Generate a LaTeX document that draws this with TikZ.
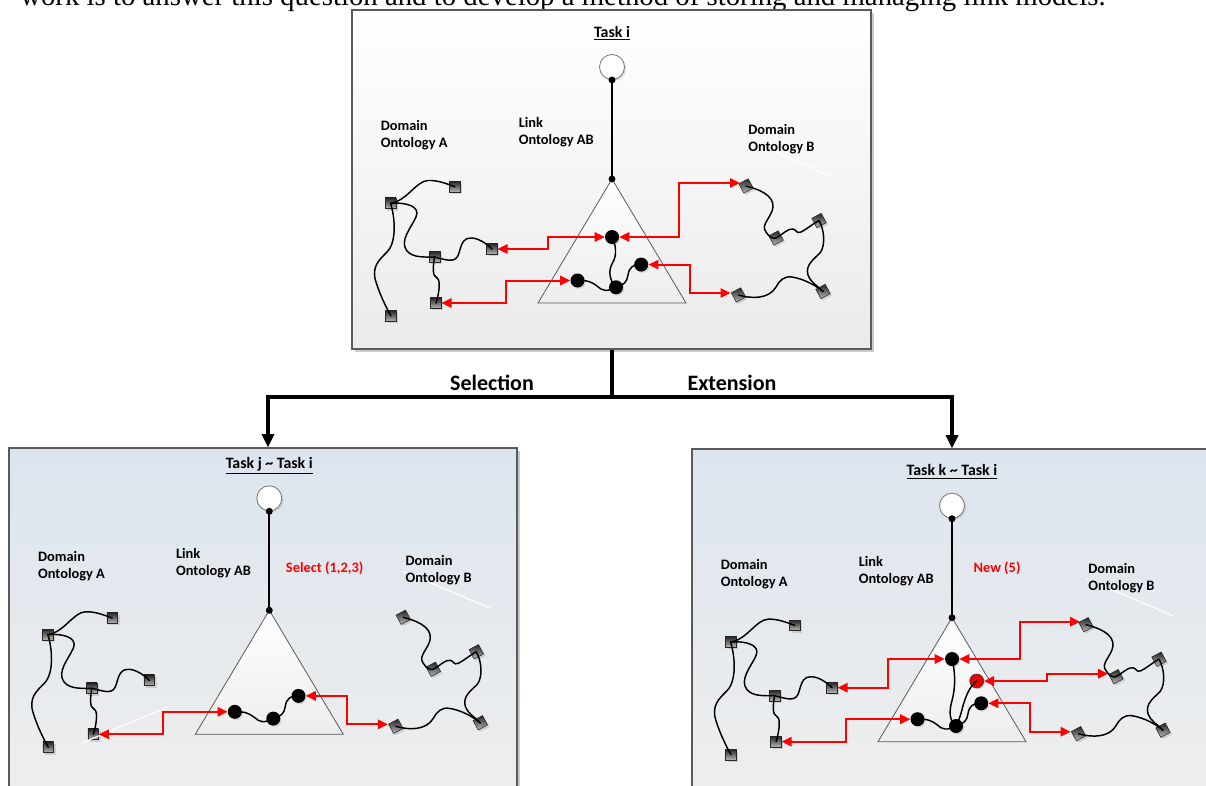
\documentclass[tikz,border=0pt]{standalone}
\usepackage{fontspec}
\setmainfont{Carlito}
\newfontfamily\bodyserif{Liberation Serif}
\usetikzlibrary{arrows.meta,shadows}

\definecolor{edgegray}{HTML}{5A5A5A}
\definecolor{paneltop}{HTML}{DCE5EE}
\definecolor{panelbot}{HTML}{EEEEEE}

\tikzset{
  panelbox/.style={rectangle, draw=edgegray, line width=0.8pt, inner sep=0pt,
    drop shadow={shadow xshift=2pt, shadow yshift=-2pt, opacity=0.35, fill=black!60}},
  trunk/.style={line width=3pt, black, line join=miter},
  trunktip/.style={-{Triangle[length=10pt,width=9pt]}},
  tri/.style={draw=black!65, line width=0.6pt, top color=white, bottom color=black!7},
  rootnode/.style={circle, draw=black!55, line width=0.6pt, fill=white, minimum size=18.75pt, inner sep=0pt,
    drop shadow={shadow xshift=1.2pt, shadow yshift=-1.2pt, opacity=0.25, fill=black!50}},
  joint/.style={circle, fill=black, minimum size=5.2pt, inner sep=0pt},
  spine/.style={line width=1.3pt, black},
  term/.style={rectangle, draw=black!85, line width=0.4pt, minimum size=8pt, inner sep=0pt,
    top color=black!85, bottom color=black!28,
    drop shadow={shadow xshift=1.4pt, shadow yshift=-1.4pt, opacity=0.3, fill=black!45}},
  termb/.style={term, rotate=28},
  linknode/.style={circle, fill=black, minimum size=10.5pt, inner sep=0pt,
    drop shadow={shadow xshift=1pt, shadow yshift=-1pt, opacity=0.25, fill=black!45}},
  newnode/.style={linknode, fill=red!92!black, draw=black!75, line width=0.5pt},
  wire/.style={line width=1.1pt, black, line cap=round},
  redlink/.style={draw=red, line width=1.5pt,
    {Triangle[length=7.5pt,width=7pt]}-{Triangle[length=7.5pt,width=7pt]}},
  streak/.style={draw=white, line width=0.9pt},
  lbl/.style={font=\fontsize{10.8}{12.75}\selectfont\bfseries, align=left, anchor=base west, inner sep=0pt},
  redlbl/.style={lbl, text=red},
  titlelbl/.style={font=\fontsize{11.9}{14}\selectfont\bfseries, anchor=base, inner sep=0pt},
  branchlbl/.style={font=\fontsize{16.5}{19}\selectfont\bfseries, anchor=base, inner sep=0pt},
}

% Parts shared by every task panel; #1 = name prefix, #2 = title.
% Two-line labels sit on the baseline of their second line.
\newcommand\ontocommon[2]{%
  \draw[streak] (134,73) -- (221,110);
  \node[titlelbl] (#1title) at (0,-29.8) {\underline{#2}};
  \node[lbl] (#1doma) at (-231.5,80.3) {Domain\\Ontology A};
  \node[lbl] (#1link) at (-93.5,77.6) {Link\\Ontology AB};
  \node[lbl] (#1domb) at (136,84.3) {Domain\\Ontology B};
  % link ontology: root, spine and triangle
  \coordinate (#1apexpt) at (0,112);
  \path[tri] (#1apexpt) -- (-74,236) -- (74,236) -- cycle;
  \node[rootnode] (#1root) at (0,0) {};
  \node[joint] (#1foot) at (0,13) {};
  \node[joint] (#1apex) at (#1apexpt) {};
  \draw[spine] (#1foot.center) -- (#1apex.center);
  % domain ontology A
  \node[term] (#1a1) at (-221.5,136.3) {};
  \node[term] (#1a2) at (-157,119.7) {};
  \node[term] (#1a3) at (-177.5,190) {};
  \node[term] (#1a4) at (-120,182) {};
  \node[term] (#1a5) at (-176,236) {};
  \node[term] (#1a6) at (-221,249) {};
  \draw[wire] (#1a1.center) .. controls (-205,134) and (-196,114) .. (-184,113.5)
                            .. controls (-174,113) and (-165,117) .. (#1a2.center);
  \draw[wire] (#1a1.center) .. controls (-207,135) and (-191,139) .. (-196,150)
                            .. controls (-201,161) and (-213,174) .. (-205,184)
                            .. controls (-199,191) and (-187,190) .. (#1a3.center);
  \draw[wire] (#1a3.center) .. controls (-165,193) and (-156,197) .. (-153,186)
                            .. controls (-150,175) and (-148,171) .. (-141,171)
                            .. controls (-134,171) and (-126,176) .. (#1a4.center);
  \draw[wire] (#1a3.center) .. controls (-179,200) and (-180,209) .. (-175,211)
                            .. controls (-171,213) and (-173,227) .. (#1a5.center);
  \draw[wire] (#1a1.center) .. controls (-217,150) and (-215,175) .. (-225,185)
                            .. controls (-233,193) and (-241,200) .. (-236,215)
                            .. controls (-232,228) and (-226,240) .. (#1a6.center);
  % domain ontology B
  \node[termb] (#1b1) at (134,119) {};
  \node[termb] (#1b2) at (164,171) {};
  \node[termb] (#1b3) at (207,153.5) {};
  \node[termb] (#1b4) at (126.5,228) {};
  \node[termb] (#1b5) at (211,224.5) {};
  \draw[wire] (#1b1.center) .. controls (146,122) and (162,128) .. (161,140)
                            .. controls (160,150) and (148,158) .. (154,165)
                            .. controls (157,170) and (161,172) .. (#1b2.center);
  \draw[wire] (#1b2.center) .. controls (170,168) and (176,161) .. (181,162)
                            .. controls (185,163) and (184,167) .. (189,165)
                            .. controls (195,162) and (202,156) .. (#1b3.center);
  \draw[wire] (#1b3.center) .. controls (212,162) and (214,178) .. (208,186)
                            .. controls (202,192) and (193,198) .. (196,208)
                            .. controls (199,216) and (206,219) .. (#1b5.center);
  \draw[wire] (#1b4.center) .. controls (140,232) and (157,232) .. (164,220)
                            .. controls (168,213) and (172,209) .. (180,210)
                            .. controls (192,212) and (203,218) .. (#1b5.center);
}

% Lower chain of link concepts (n2 - n3 - n4); #1 = name prefix
\newcommand\linkchain[1]{%
  \node[linknode] (#1n2) at (-34.5,213.5) {};
  \node[linknode] (#1n3) at (4,220.3) {};
  \node[linknode] (#1n4) at (29.2,197.6) {};
  \draw[wire] (#1n2.center) .. controls (-25,213) and (-20,215) .. (-15,219)
                            .. controls (-10,224) and (-5,225) .. (#1n3.center);
  \draw[wire] (#1n3.center) .. controls (12,218) and (15,215) .. (16,208)
                            .. controls (17,200) and (22,197) .. (#1n4.center);
  \draw[redlink] (#1a5.east) -| (-106,225) |- (#1n2.west);
  \draw[redlink] (#1n4.east) -| (78,212) |- ([xshift=-6pt,yshift=1.5pt]#1b4.center);
}

\begin{document}
\begin{tikzpicture}[x=0.75pt,y=-0.75pt]
\useasboundingbox (0,0) rectangle (1206,785);
\clip (0,0) rectangle (1206,785);

% running text of the page above the figure
\node[anchor=base west, inner sep=0pt, font=\bodyserif\fontsize{21.6}{24}\selectfont] (pagetext) at (20,5.5)
  {work is to answer this question and to develop a method of storing and managing link models.};

% panels
\node[panelbox, top color=white, bottom color=black!8,
      minimum width=389.25pt, minimum height=254.25pt] (topbox) at (611.5,179.5) {};
\node[panelbox, top color=paneltop, bottom color=panelbot,
      minimum width=381pt, minimum height=264pt] (lbox) at (263,624) {};
\node[panelbox, top color=paneltop, bottom color=panelbot,
      minimum width=392.25pt, minimum height=263.25pt] (rbox) at (953.5,624.5) {};

% branching connector
\coordinate (fork) at (612,397);
\draw[trunk] (topbox.south) -- (topbox.south |- fork);
\draw[trunk, trunktip] (fork) -| ([xshift=3.75pt]lbox.north);
\draw[trunk, trunktip] (fork) -| ([xshift=-1.1pt]rbox.north);
\node[branchlbl] (sel) at (492,390) {Selection};
\node[branchlbl] (ext) at (732,390) {Extension};

% Task i
\begin{scope}[shift={(612,67)}]
  \ontocommon{t}{Task i}
  \node[linknode] (tn1) at (0,170) {};
  \linkchain{t}
  \draw[wire] (tn1.center) .. controls (4,178) and (5,188) .. (1,195)
                           .. controls (-4,203) and (-3,213) .. (tn3.center);
  \draw[redlink] (ta4.east) -| (-64,176) |- (tn1.west);
  \draw[redlink] (tn1.east) -| (67.4,140) |- ([xshift=-4.5pt,yshift=2.25pt]tb1.center);
\end{scope}

% Task j ~ Task i (selection)
\begin{scope}[shift={(269.3,498.3)}]
  \ontocommon{l}{Task j \textasciitilde{} Task i}
  \draw[streak] (-187.6,244.7) -- (-101.3,208.7);
  \node[redlbl] (lsel) at (16.4,74.6) {Select (1,2,3)};
  \linkchain{l}
\end{scope}

% Task k ~ Task i (extension)
\begin{scope}[shift={(952,505.7)}]
  \ontocommon{r}{Task k \textasciitilde{} Task i}
  \node[redlbl] (rnew) at (21.3,67.2) {New (5)};
  \node[linknode] (rn1) at (0,153.3) {};
  \node[newnode] (rn5) at (24.7,175.3) {};
  \linkchain{r}
  \draw[wire] (rn1.center) .. controls (3,165) and (4,180) .. (0,195)
                           .. controls (-3,205) and (-3,215) .. (rn3.center);
  \draw[wire] (rn5.center) .. controls (18,180) and (14,190) .. (11,200)
                           .. controls (9,208) and (7,215) .. (rn3.center);
  \draw[redlink] (ra4.east) -| (-64,170) |- (rn1.west);
  \draw[redlink] (rn1.east) -| (68,140) |- ([xshift=-4.5pt,yshift=2.25pt]rb1.center);
  \draw[redlink] (rn5.east) -| (94.7,172) |- ([xshift=-6pt,yshift=2.25pt]rb2.center);
\end{scope}
\end{tikzpicture}
\end{document}
